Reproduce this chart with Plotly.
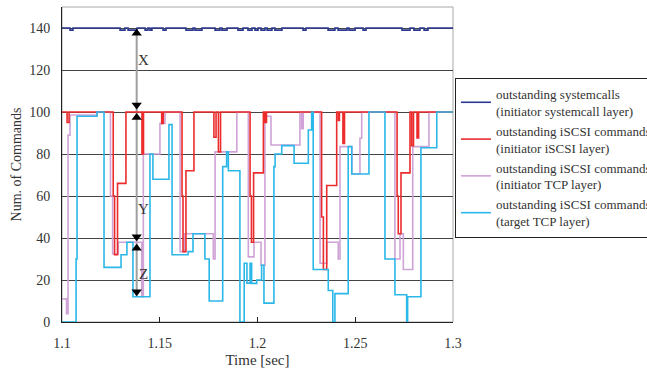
import plotly.graph_objects as go

# ---- data (time in sec, value holds from that time until the next point) ----
SYS_T = [1.1000, 1.1041, 1.1056, 1.1297, 1.1322, 1.1338, 1.1384, 1.1425, 1.1440, 1.1450,
         1.1460, 1.1517, 1.1532, 1.1634, 1.1670, 1.1680, 1.1716, 1.1783, 1.1808, 1.1818,
         1.1844, 1.1900, 1.1926, 1.1951, 1.1972, 1.1987, 1.2003, 1.2018, 1.2038, 1.2049,
         1.2074, 1.2089, 1.2125, 1.2233, 1.2248, 1.2361, 1.2396, 1.2412, 1.2458, 1.2468,
         1.2499, 1.2540, 1.2555, 1.2739, 1.2780, 1.2800, 1.2831, 1.2852, 1.2872, 1.3000]
SYS_V = [140, 139, 140, 139, 140, 139, 140, 139, 140, 139,
         140, 139, 140, 139, 140, 139, 140, 139, 140, 139,
         140, 139, 140, 139, 140, 139, 140, 139, 140, 139,
         140, 139, 140, 139, 140, 139, 140, 139, 140, 139,
         140, 139, 140, 139, 140, 139, 140, 139, 140, 140]

ISCSI_T = [1.1000, 1.1026, 1.1036, 1.1262, 1.1269, 1.1284, 1.1327, 1.1409, 1.1417, 1.1510,
           1.1518, 1.1614, 1.1619, 1.1634, 1.1675, 1.1777, 1.1788, 1.1800, 1.1811, 1.1962,
           1.1969, 1.1980, 1.2030, 1.2038, 1.2046, 1.2328, 1.2337, 1.2354, 1.2405, 1.2414,
           1.2419, 1.2437, 1.2445, 1.2714, 1.2720, 1.2734, 1.2780, 1.2789, 1.2798, 1.2816,
           1.2824, 1.3000]
ISCSI_V = [100, 95, 100, 60, 32, 66, 100, 80, 100, 94.6,
           100, 60, 33.5, 72, 100, 88, 100, 81, 100, 60,
           38, 71, 100, 95, 100, 50, 25, 65, 100, 96,
           100, 85, 100, 60, 42, 71, 100, 84, 100, 87.6,
           100, 100]

ITCP_T = [1.1000, 1.1023, 1.1031, 1.1041, 1.1179, 1.1248, 1.1259, 1.1288, 1.1408, 1.1416,
          1.1501, 1.1527, 1.1604, 1.1626, 1.1774, 1.1783, 1.1894, 1.1953, 1.1982, 1.2018,
          1.2038, 1.2069, 1.2217, 1.2226, 1.2234, 1.2320, 1.2354, 1.2413, 1.2422, 1.2483,
          1.2524, 1.2533, 1.2703, 1.2729, 1.2746, 1.2794, 1.2877, 1.3000]
ITCP_V = [11, 4, 89, 98.6, 100, 60, 32.4, 38, 12, 80,
          94.6, 100, 33.5, 42, 30, 81, 100, 31, 38, 27,
          98, 84.3, 100, 92, 100, 28, 38, 30, 83.5, 70.5,
          87.5, 100, 30, 42, 25, 83.5, 100, 100]

TTCP_T = [1.1000, 1.1072, 1.1077, 1.1179, 1.1215, 1.1302, 1.1332, 1.1363, 1.1450, 1.1465,
          1.1547, 1.1563, 1.1645, 1.1670, 1.1731, 1.1753, 1.1822, 1.1842, 1.1851, 1.1910,
          1.1932, 1.1946, 1.1962, 1.1970, 1.1996, 1.2021, 1.2033, 1.2084, 1.2090, 1.2124,
          1.2187, 1.2260, 1.2277, 1.2285, 1.2362, 1.2385, 1.2396, 1.2464, 1.2482, 1.2570,
          1.2652, 1.2703, 1.2763, 1.2768, 1.2836, 1.2917, 1.3000]
TTCP_V = [0, 30, 98, 100, 26, 32, 38, 12, 80, 68,
          94, 32, 33.5, 42, 30, 10, 74, 81, 72, 0,
          28, 18.5, 28, 18.4, 20, 27, 9, 74, 80, 84,
          75.6, 91.4, 100, 25, 15, 0, 13.5, 83.5, 70.5, 100,
          30, 13, 0, 12, 83, 100, 100]

NAMES = ["outstanding systemcalls<br>(initiator systemcall layer)",
         "outstanding iSCSI commands<br>(initiator iSCSI layer)",
         "outstanding iSCSI commands<br>(initiator TCP layer)",
         "outstanding iSCSI commands<br>(target TCP layer)"]
COLORS = ["#2b3990", "#ec2c2c", "#cfa3d6", "#2bb8e8"]

# gap annotations: time position, arrow spans, labels
GAP_T = 1.1382
GAP_LINE = [139, 12.5]
HEAD_UP_Y = [137.5, 97.4, 35.1]
HEAD_DOWN_Y = [103.3, 40.6, 14.4]
LABEL_T = 1.1416
LABELS = ["X", "Y", "Z"]
LABEL_Y = [124.8, 54, 23]

XTICKS = [1.1, 1.15, 1.2, 1.25, 1.3]
XTICKTEXT = ["1.1", "1.15", "1.2", "1.25", "1.3"]
YTICKS = [0, 20, 40, 60, 80, 100, 120, 140]

FONT = "Liberation Serif"

fig = go.Figure()

# gap marker line (behind data)
fig.add_trace(go.Scatter(x=[GAP_T, GAP_T], y=GAP_LINE, mode="lines",
                         line=dict(color="#a0a0a0", width=2), showlegend=False,
                         hoverinfo="skip"))

series = [(SYS_T, SYS_V, 0, 1), (ITCP_T, ITCP_V, 2, 3), (ISCSI_T, ISCSI_V, 1, 2), (TTCP_T, TTCP_V, 3, 4)]
for t, v, idx, rank in series:
    fig.add_trace(go.Scatter(x=t, y=v, mode="lines", line_shape="hv",
                             line=dict(color=COLORS[idx], width=1.6),
                             name=NAMES[idx], legendrank=rank))

fig.add_trace(go.Scatter(x=[GAP_T] * len(HEAD_UP_Y), y=HEAD_UP_Y, mode="markers",
                         marker=dict(symbol="triangle-up", size=9, color="black"),
                         showlegend=False, hoverinfo="skip"))
fig.add_trace(go.Scatter(x=[GAP_T] * len(HEAD_DOWN_Y), y=HEAD_DOWN_Y, mode="markers",
                         marker=dict(symbol="triangle-down", size=9, color="black"),
                         showlegend=False, hoverinfo="skip"))

for lab, ly in zip(LABELS, LABEL_Y):
    fig.add_annotation(x=LABEL_T, y=ly, text=lab, showarrow=False, xanchor="center",
                       yanchor="middle", font=dict(family=FONT, size=15, color="#333"))

# gray frame top/right
fig.add_shape(type="rect", xref="paper", yref="paper", x0=0, y0=0, x1=1, y1=1,
              line=dict(color="#a8a8a8", width=1), layer="below")

fig.update_layout(
    width=647, height=368,
    margin=dict(l=62, r=194, t=7, b=46, autoexpand=False),
    paper_bgcolor="white", plot_bgcolor="white",
    font=dict(family=FONT, size=14, color="#333"),
    legend=dict(x=1.005, y=0.775, xanchor="left", yanchor="top",
                bordercolor="#222", borderwidth=1, bgcolor="white",
                font=dict(family=FONT, size=13, color="#333"),
                tracegroupgap=0, itemwidth=30),
    xaxis=dict(range=[1.1, 1.3], tickvals=XTICKS, ticktext=XTICKTEXT,
               showgrid=False, zeroline=False, showline=True, linecolor="#222",
               linewidth=1, ticks="inside", ticklen=5, tickcolor="#222",
               ticklabelstandoff=8,
               title=dict(text="Time [sec]", font=dict(size=15), standoff=4)),
    yaxis=dict(range=[0, 150], tickvals=YTICKS, showgrid=True, gridcolor="#444",
               gridwidth=1, zeroline=False, showline=True, linecolor="#222",
               linewidth=1, ticks="", ticklabelstandoff=8,
               title=dict(text="Num. of Commands", font=dict(size=14), standoff=4)),
)

fig.write_html("out.html")
